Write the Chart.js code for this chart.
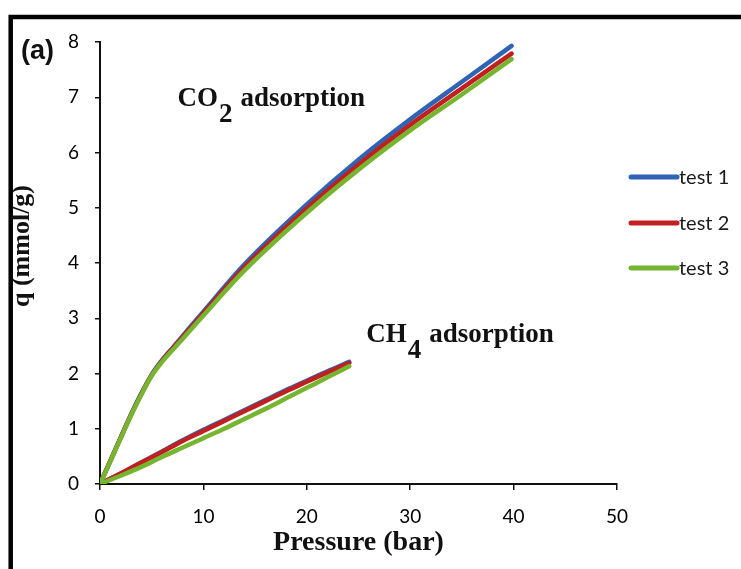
<!DOCTYPE html>
<html>
<head>
<meta charset="utf-8">
<script src="https://cdn.jsdelivr.net/npm/chart.js@4.4.1/dist/chart.umd.min.js"></script>
<style>
  html, body { margin: 0; padding: 0; background: #fff; }
  #wrap { width: 741px; height: 569px; }
</style>
</head>
<body>
<div id="wrap"><canvas id="chart" width="741" height="569"></canvas></div>
<script>
// CO2 isotherms (pressure in bar, uptake in mmol/g)
const co2Pressure = [0, 1, 2, 3, 4, 5, 6, 7, 8, 10, 14, 20, 25, 30, 35, 39.8];
const co2Test1 = [0, 0.42, 0.84, 1.26, 1.64, 1.98, 2.24, 2.46, 2.68, 3.12, 3.98, 5.06, 5.87, 6.6, 7.28, 7.93];
const co2Test2 = [0, 0.42, 0.84, 1.25, 1.63, 1.97, 2.23, 2.45, 2.66, 3.09, 3.93, 4.99, 5.78, 6.5, 7.16, 7.79];
const co2Test3 = [0, 0.41, 0.83, 1.24, 1.62, 1.96, 2.21, 2.42, 2.63, 3.05, 3.87, 4.91, 5.69, 6.4, 7.05, 7.69];

// CH4 isotherms
const ch4Pressure = [0, 2, 4, 6, 8, 10, 12, 14, 16, 18, 20, 22, 24.1];
const ch4Test1 = [0, 0.19, 0.39, 0.59, 0.79, 0.98, 1.16, 1.34, 1.52, 1.7, 1.87, 2.04, 2.21];
const ch4Test2 = [0, 0.19, 0.39, 0.58, 0.78, 0.96, 1.14, 1.32, 1.5, 1.68, 1.85, 2.02, 2.19];
const ch4Test3 = [0, 0.15, 0.31, 0.49, 0.66, 0.83, 1.0, 1.18, 1.36, 1.55, 1.74, 1.93, 2.13];

const testNames = ['test 1', 'test 2', 'test 3'];
const testColors = ['#2f63b3', '#c0201f', '#76b52f'];

const xTicks = [0, 10, 20, 30, 40, 50];
const yTicks = [0, 1, 2, 3, 4, 5, 6, 7, 8];

// gas labels placed in data units: [main, subscript, rest, x, y]
const gasLabels = [
  ['CO', '2', 'adsorption', 7.5, 6.85],
  ['CH', '4', 'adsorption', 25.75, 2.57]
];

const serif = '"Liberation Serif", "Times New Roman", serif';
const sans = 'Lato, "Open Sans", sans-serif';

function toPoints(xs, ys) {
  return xs.map((x, i) => ({ x: x, y: ys[i] }));
}

function makeSet(label, xs, ys, idx) {
  return {
    label: label,
    data: toPoints(xs, ys),
    borderColor: testColors[idx],
    backgroundColor: testColors[idx],
    borderWidth: 4.5,
    borderCapStyle: 'round',
    pointRadius: 0,
    cubicInterpolationMode: 'monotone',
    fill: false,
    order: 3 - idx
  };
}

const co2Series = [co2Test1, co2Test2, co2Test3];
const ch4Series = [ch4Test1, ch4Test2, ch4Test3];
const datasets = [];
testNames.forEach((name, i) => {
  datasets.push(makeSet(name, co2Pressure, co2Series[i], i));
  datasets.push(makeSet(name + ' CH4', ch4Pressure, ch4Series[i], i));
});

// frame, panel letter, y title, gas labels and the legend
const decorations = {
  id: 'decorations',
  beforeDraw(chart) {
    const ctx = chart.ctx;
    ctx.save();
    ctx.fillStyle = '#fff';
    ctx.fillRect(0, 0, chart.width, chart.height);
    ctx.restore();
  },
  afterDraw(chart) {
    const ctx = chart.ctx;
    const xs = chart.scales.x;
    const ys = chart.scales.y;
    const area = chart.chartArea;
    ctx.save();

    // black frame on top and left
    ctx.strokeStyle = '#000';
    ctx.lineWidth = 4.5;
    ctx.beginPath();
    ctx.moveTo(10.7, chart.height);
    ctx.lineTo(10.7, 17);
    ctx.lineTo(chart.width, 17);
    ctx.stroke();

    // panel letter
    ctx.fillStyle = '#111';
    ctx.font = 'bold 27px "Liberation Sans", Arial, sans-serif';
    ctx.textAlign = 'left';
    ctx.textBaseline = 'middle';
    ctx.fillText('(a)', 21, 52);

    // y axis title
    ctx.save();
    ctx.translate(22, (area.top + area.bottom) / 2 - 17);
    ctx.rotate(-Math.PI / 2);
    ctx.font = 'bold 26px ' + serif;
    ctx.textAlign = 'center';
    ctx.textBaseline = 'middle';
    ctx.fillText('q (mmol/g)', 0, 0);
    ctx.restore();

    // gas labels with subscripts
    ctx.font = 'bold 27px ' + serif;
    ctx.textAlign = 'left';
    ctx.textBaseline = 'alphabetic';
    gasLabels.forEach(g => {
      let x = xs.getPixelForValue(g[3]);
      const y = ys.getPixelForValue(g[4]);
      ctx.fillText(g[0], x, y);
      x += ctx.measureText(g[0]).width + 1;
      ctx.fillText(g[1], x, y + 16);
      x += ctx.measureText(g[1]).width + 8;
      ctx.fillText(g[2], x, y);
    });

    // legend
    const legendY = [177, 223, 268];
    ctx.font = '20px ' + sans;
    ctx.textBaseline = 'middle';
    testNames.forEach((name, i) => {
      ctx.strokeStyle = testColors[i];
      ctx.lineWidth = 5;
      ctx.lineCap = 'round';
      ctx.beginPath();
      ctx.moveTo(631, legendY[i]);
      ctx.lineTo(677, legendY[i]);
      ctx.stroke();
      ctx.fillStyle = '#1a1a1a';
      ctx.fillText(name, 679, legendY[i] + 1);
    });
    ctx.restore();
  }
};

const chart = new Chart(document.getElementById('chart'), {
  type: 'line',
  data: { datasets: datasets },
  options: {
    responsive: false,
    animation: false,
    layout: { padding: { top: 42, right: 124, left: 0, bottom: 0 } },
    plugins: {
      legend: { display: false },
      tooltip: { enabled: false }
    },
    scales: {
      x: {
        type: 'linear',
        min: xTicks[0],
        max: xTicks[xTicks.length - 1],
        afterFit: s => { s.height = 85; },
        afterBuildTicks: s => { s.ticks = xTicks.map(v => ({ value: v })); },
        border: { display: true, color: '#111', width: 2 },
        grid: { display: true, drawOnChartArea: false, drawTicks: true, tickLength: 6, color: '#111', lineWidth: 1.5 },
        ticks: { color: '#000', font: { family: sans, size: 19 }, padding: 15, maxRotation: 0 },
        title: {
          display: true,
          text: 'Pressure (bar)',
          color: '#111',
          font: { family: serif, size: 28, weight: 'bold' },
          padding: { top: 0, bottom: 9 }
        }
      },
      y: {
        type: 'linear',
        min: yTicks[0],
        max: yTicks[yTicks.length - 1],
        afterFit: s => { s.width = 100; },
        afterBuildTicks: s => { s.ticks = yTicks.map(v => ({ value: v })); },
        border: { display: true, color: '#111', width: 2 },
        grid: { display: true, drawOnChartArea: false, drawTicks: true, tickLength: 5, color: '#111', lineWidth: 1.5 },
        ticks: { color: '#000', font: { family: sans, size: 19 }, padding: 16 }
      }
    }
  },
  plugins: [decorations]
});
</script>
</body>
</html>
